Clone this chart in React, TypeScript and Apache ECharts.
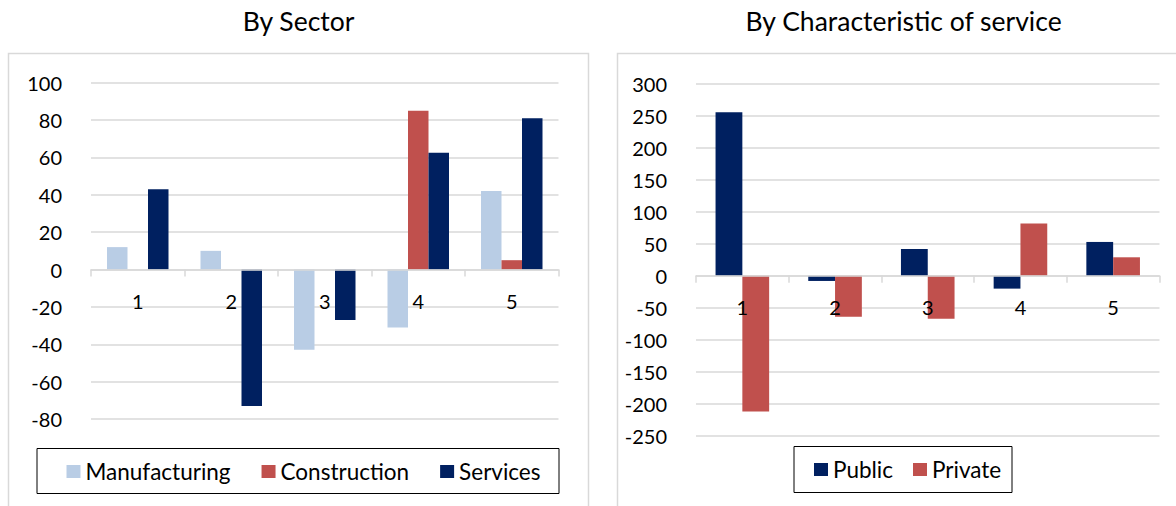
import React, { useEffect, useRef } from "react";
import * as echarts from "echarts";

const categories = ["1", "2", "3", "4", "5"];
const manufacturing = [12, 10, -43, -31, 42];
const construction = [0, 0, 0, 85, 5];
const services = [43, -73, -27, 62.5, 81];
const publicVals = [256, -8, 42, -20, 53];
const privateVals = [-212, -64, -67, 82, 29];

const FONT = "Lato";
const GRID_COLOR = "#d9d9d9";
const NAVY = "#002060";
const RED = "#C0504D";
const LIGHT = "#B9CDE5";

export default function App() {
  const ref = useRef<HTMLDivElement>(null);
  useEffect(() => {
    if (!ref.current) return;
    const chart = echarts.init(ref.current, null, { renderer: "svg" });
    const grids = [
      { left: 91, top: 82.7, width: 467.5, height: 336.3, min: -80, max: 100, interval: 20 },
      { left: 696, top: 84, width: 463.5, height: 351.7, min: -250, max: 300, interval: 50 },
    ];
    const xAxisBase = (gridIndex: number) => {
      const g = grids[gridIndex];
      const zeroOffset = (g.height * (0 - g.min)) / (g.max - g.min);
      return {
        type: "category",
        gridIndex,
        data: categories,
        z: 3,
        position: "bottom",
        offset: -zeroOffset,
        axisLine: { onZero: false, lineStyle: { color: GRID_COLOR, width: 1.5 } },
        axisTick: { show: true, length: 7, lineStyle: { color: GRID_COLOR, width: 1.5 } },
        axisLabel: { color: "#000", fontSize: 20, fontFamily: FONT, margin: 21 },
        splitLine: { show: false },
      };
    };
    const yAxisBase = (gridIndex: number) => {
      const g = grids[gridIndex];
      return {
        type: "value",
        gridIndex,
        min: g.min,
        max: g.max,
        interval: g.interval,
        axisLine: { show: false },
        axisTick: { show: false },
        axisLabel: { color: "#000", fontSize: 20, fontFamily: FONT, margin: 29 },
        splitLine: { lineStyle: { color: GRID_COLOR, width: 1.5 } },
      };
    };
    const legendText = { fontFamily: FONT, fontSize: 22.5, color: "#000" };
    chart.setOption({
      animation: false,
      title: [
        {
          text: "By Sector",
          left: 298.6,
          top: 7,
          textAlign: "center",
          padding: 0,
          textStyle: { fontFamily: FONT, fontSize: 26.5, fontWeight: "normal", color: "#000" },
        },
        {
          text: "By Characteristic of service",
          left: 903.6,
          top: 7,
          textAlign: "center",
          padding: 0,
          textStyle: { fontFamily: FONT, fontSize: 26.5, fontWeight: "normal", color: "#000" },
        },
      ],
      graphic: [
        { type: "rect", z: -1, shape: { x: 8.5, y: 53.5, width: 580, height: 470 }, style: { fill: "none", stroke: GRID_COLOR, lineWidth: 1.5 } },
        { type: "rect", z: -1, shape: { x: 617.5, y: 53.5, width: 600, height: 470 }, style: { fill: "none", stroke: GRID_COLOR, lineWidth: 1.5 } },
        { type: "rect", z: -1, shape: { x: 37, y: 448.5, width: 522, height: 45 }, style: { fill: "none", stroke: "#000", lineWidth: 1 } },
        { type: "rect", z: -1, shape: { x: 794, y: 446.5, width: 218, height: 46 }, style: { fill: "none", stroke: "#000", lineWidth: 1 } },
      ],
      legend: [
        {
          data: ["Manufacturing", "Construction", "Services"],
          left: 66.5,
          top: 460,
          padding: 0,
          itemWidth: 14,
          itemHeight: 13,
          itemGap: 31,
          icon: "rect",
          textStyle: legendText,
        },
        {
          data: ["Public", "Private"],
          left: 814,
          top: 458,
          padding: 0,
          itemWidth: 14,
          itemHeight: 13,
          itemGap: 20,
          icon: "rect",
          textStyle: legendText,
        },
      ],
      grid: grids.map((g) => ({ left: g.left, top: g.top, width: g.width, height: g.height })),
      xAxis: [xAxisBase(0), xAxisBase(1)],
      yAxis: [yAxisBase(0), yAxisBase(1)],
      series: [
        { name: "Manufacturing", type: "bar", xAxisIndex: 0, yAxisIndex: 0, data: manufacturing, barWidth: 20.5, barGap: "0%", itemStyle: { color: LIGHT } },
        { name: "Construction", type: "bar", xAxisIndex: 0, yAxisIndex: 0, data: construction, barWidth: 20.5, barGap: "0%", itemStyle: { color: RED } },
        { name: "Services", type: "bar", xAxisIndex: 0, yAxisIndex: 0, data: services, barWidth: 20.5, barGap: "0%", itemStyle: { color: NAVY } },
        { name: "Public", type: "bar", xAxisIndex: 1, yAxisIndex: 1, data: publicVals, barWidth: 26.8, barGap: "0%", itemStyle: { color: NAVY } },
        { name: "Private", type: "bar", xAxisIndex: 1, yAxisIndex: 1, data: privateVals, barWidth: 26.8, barGap: "0%", itemStyle: { color: RED } },
      ],
    });
    return () => chart.dispose();
  }, []);
  return (
    <div
      ref={ref}
      style={{ position: "fixed", left: 0, top: 0, width: 1176, height: 506, background: "#fff" }}
    />
  );
}
